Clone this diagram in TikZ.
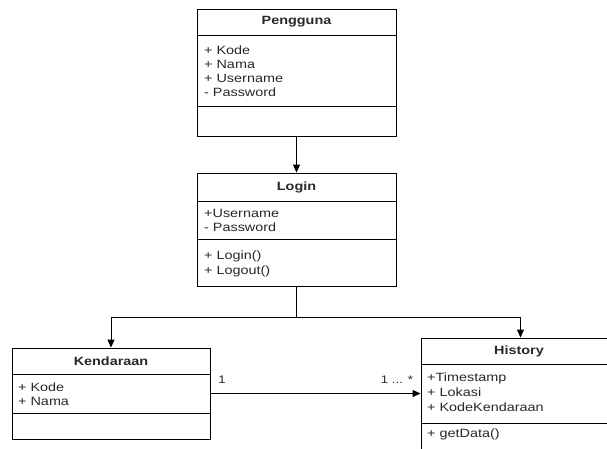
\documentclass[tikz,border=0pt]{standalone}
\usepackage{fontspec}
\setmainfont{Liberation Sans}[FakeStretch=1.2]
\usetikzlibrary{arrows.meta,calc}
\definecolor{txt}{RGB}{40,40,40}
\begin{document}
\begin{tikzpicture}[x=1pt,y=-1pt,
  classbox/.style={draw=black, line width=0.9pt, rectangle, inner sep=0pt, fill=white},
  title/.style={font=\fontsize{12}{14}\selectfont\bfseries, text=txt, inner sep=0pt},
  member/.style={font=\fontsize{12}{14}\selectfont, text=txt, inner sep=0pt, anchor=west},
  mult/.style={font=\fontsize{11}{13}\selectfont, text=txt, inner sep=0pt},
  arr/.style={draw=black, line width=0.9pt, -{Triangle[length=8pt,width=7pt]}},
  link/.style={draw=black, line width=0.9pt}]
\useasboundingbox (0,0) rectangle (607,448);
\clip (0,0) rectangle (607,448);
\fill[white] (0,0) rectangle (607,448);

% Pengguna
\node[classbox, minimum width=199pt, minimum height=127pt] (peng) at (296.5,72.5) {};
\draw[link] (197,35) -- (396,35);
\draw[link] (197,106) -- (396,106);
\node[title] (pengT) at (296.5,22) {Pengguna};
\node[member] (pengA1) at (204,50) {+ Kode};
\node[member] (pengA2) at (204,64) {+ Nama};
\node[member] (pengA3) at (204,78) {+ Username};
\node[member] (pengA4) at (204,92) {- Password};

% Login
\node[classbox, minimum width=199pt, minimum height=113pt] (login) at (296.5,229.5) {};
\draw[link] (197,201) -- (396,201);
\draw[link] (197,239) -- (396,239);
\node[title] (loginT) at (296.5,187) {Login};
\node[member] (loginA1) at (204,213) {+Username};
\node[member] (loginA2) at (204,227.5) {- Password};
\node[member] (loginM1) at (204,256.5) {+ Login()};
\node[member] (loginM2) at (204,271) {+ Logout()};

% Kendaraan
\node[classbox, minimum width=198pt, minimum height=91pt] (kend) at (111,393.5) {};
\draw[link] (12,374) -- (210,374);
\draw[link] (12,413) -- (210,413);
\node[title] (kendT) at (111,361) {Kendaraan};
\node[member] (kendA1) at (18,387) {+ Kode};
\node[member] (kendA2) at (18,401.5) {+ Nama};

% History
\node[classbox, minimum width=199pt, minimum height=117pt] (hist) at (520.5,396.5) {};
\draw[link] (421,364) -- (620,364);
\draw[link] (421,423) -- (620,423);
\node[title] (histT) at (519,351) {History};
\node[member] (histA1) at (427,378) {+Timestamp};
\node[member] (histA2) at (427,392.5) {+ Lokasi};
\node[member] (histA3) at (427,407) {+ KodeKendaraan};
\node[member] (histM1) at (427,434) {+ getData()};

% Connectors
\draw[arr] (peng.south) -- (login.north);
\coordinate (split) at ($(login.south)+(0,31)$);
\draw[link] (login.south) -- (split);
\draw[arr] (split) -| (kend.north);
\draw[arr] (split) -| (hist.north);
\draw[arr] (kend.east) -- (kend.east -| hist.west);

% Multiplicities
\node[mult] (m1) at (222,380) {1};
\node[mult] (m2) at (397,380) {1 ... *};
\end{tikzpicture}
\end{document}
